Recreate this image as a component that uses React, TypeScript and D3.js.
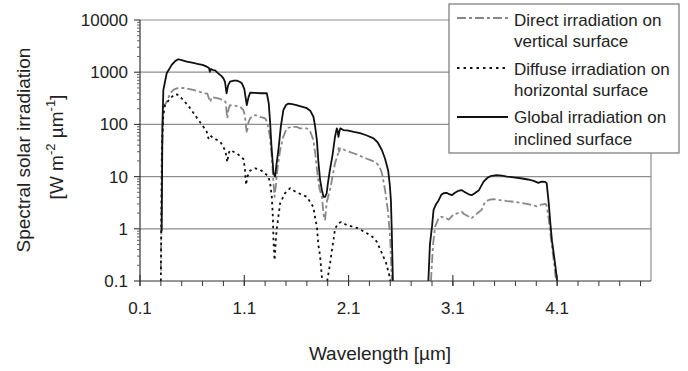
import React from 'react';
import * as d3 from 'd3';

// ---------- DATA ----------
const xTickValues = [0.1, 1.1, 2.1, 3.1, 4.1];
const xTickLabels = ['0.1', '1.1', '2.1', '3.1', '4.1'];
const yTickValues = [0.1, 1, 10, 100, 1000, 10000];
const yTickLabels = ['0.1', '1', '10', '100', '1000', '10000'];

const legendLabels = [
  ['Direct irradiation on', 'vertical surface'],
  ['Diffuse irradiation on', 'horizontal surface'],
  ['Global irradiation on', 'inclined surface'],
];

// Global irradiation on inclined surface (NaN = gap)
const globalWl = [
  0.305, 0.308, 0.315, 0.324, 0.356, 0.404, 0.44, 0.468, 0.5, 0.548, 0.6, 0.66, 0.7, 0.74, 0.762, 0.77, 0.78, 0.8, 0.82,
  0.85, 0.88, 0.9, 0.915, 0.93, 0.945, 0.963, 1.0, 1.03, 1.06, 1.076, 1.1, 1.124, 1.14, 1.156, 1.2, 1.26, 1.316, 1.335,
  1.348, 1.36, 1.38, 1.396, 1.41, 1.427, 1.45, 1.475, 1.5, 1.523, 1.56, 1.6, 1.65, 1.7, 1.735, 1.763, 1.78, 1.796, 1.81,
  1.827, 1.844, 1.86, 1.875, 1.89, 1.9, 1.92, 1.945, 1.97, 1.987, 1.995, 2.003, 2.01, 2.02, 2.05, 2.1, 2.15, 2.21, 2.27,
  2.34, 2.38, 2.42, 2.45, 2.48, 2.495, 2.506, 2.515, 2.525,
  2.6,
  2.865, 2.88, 2.9, 2.915, 2.94, 2.963, 2.99, 3.01, 3.04, 3.065, 3.09, 3.12, 3.15, 3.187, 3.21, 3.235, 3.26, 3.28, 3.31,
  3.35, 3.375, 3.395, 3.43, 3.46, 3.52, 3.57, 3.62, 3.7, 3.75, 3.82, 3.875, 3.92, 3.95, 3.985, 4.0, 4.02, 4.035, 4.05,
  4.067, 4.085, 4.1,
];
const globalVal = [
  0.9, 0.95, 100, 457, 955, 1380, 1650, 1770, 1700, 1590, 1520, 1435, 1380, 1275, 1200, 1020, 1150, 1100, 1080,
  950, 850, 760, 650, 395, 560, 660, 690, 690, 650, 615, 480, 234, 330, 405, 400, 395, 395, 250,
  107, 40, 11.6, 10, 18, 32, 90, 189, 235, 251, 245, 234, 218, 204, 180, 140, 90, 50, 20,
  8.6, 5.5, 4.1, 4.1, 4.8, 7, 13, 25, 58, 84, 75, 58, 70, 84, 78, 76, 72, 68, 62,
  54, 45, 32, 22, 13, 7, 3.5, 0.8, 0.1,
  NaN,
  0.1, 0.5, 1.1, 2.3, 3.0, 3.5, 4.5, 4.8, 4.9, 4.6, 4.4, 4.9, 5.3, 5.5, 5.1, 4.8, 4.5, 4.4, 4.8,
  5.5, 6.8, 8.0, 9.4, 10.2, 10.7, 10.4, 10.0, 9.6, 9.3, 8.8, 8.3, 7.6, 8.0, 7.9, 7.4, 3, 1.27, 0.6,
  0.34, 0.18, 0.1,
];

// Direct irradiation on vertical surface
const directWl = [
  0.298, 0.3, 0.312, 0.324, 0.356, 0.39, 0.42, 0.452, 0.516, 0.56, 0.612, 0.66, 0.71, 0.745, 0.765, 0.775, 0.785, 0.8,
  0.85, 0.9, 0.92, 0.937, 0.95, 0.963, 1.0, 1.06, 1.09, 1.105, 1.124, 1.14, 1.156, 1.18, 1.204, 1.25, 1.3, 1.32, 1.345,
  1.364, 1.38, 1.39, 1.4, 1.42, 1.444, 1.47, 1.507, 1.55, 1.6, 1.635, 1.7, 1.73, 1.763, 1.78, 1.8, 1.82, 1.844, 1.866,
  1.875, 1.89, 1.92, 1.94, 1.97, 2.0, 2.003, 2.01, 2.02, 2.067, 2.147, 2.21, 2.275, 2.33, 2.37, 2.4, 2.42, 2.45, 2.48,
  2.5, 2.515,
  2.6,
  2.89, 2.91, 2.93, 2.963, 2.99, 3.01, 3.035, 3.06, 3.085, 3.11, 3.15, 3.187, 3.21, 3.235, 3.26, 3.28, 3.31, 3.35,
  3.375, 3.41, 3.45, 3.49, 3.55, 3.62, 3.68, 3.75, 3.81, 3.87, 3.906, 3.95, 3.987, 4.0, 4.02, 4.035, 4.05, 4.067, 4.09,
];
const directVal = [
  0.16, 0.16, 30, 218, 270, 395, 460, 490, 500, 480, 457, 430, 395, 390, 300, 270, 330, 330,
  315, 293, 270, 131, 200, 234, 230, 218, 190, 150, 68, 110, 131, 145, 151, 140, 131, 110, 60,
  24, 7.4, 4.1, 6, 15, 32, 55, 84, 90, 90, 84, 84, 75, 50, 28, 12, 6, 4.1, 1.5,
  1.5, 3.2, 5.5, 8.6, 18, 28, 35, 30, 35, 32, 28, 25, 22, 20, 18, 15, 11.6, 5.5, 2,
  0.6, 0.1,
  NaN,
  0.1, 0.5, 1.1, 1.6, 1.7, 1.66, 1.6, 1.5, 1.7, 1.9, 2.0, 2.1, 1.9, 1.8, 1.65, 1.6, 1.8, 2.1,
  2.3, 3.3, 3.6, 3.7, 3.55, 3.4, 3.3, 3.15, 3.0, 2.8, 2.7, 2.9, 3.0, 2.8, 1.5, 0.82, 0.45, 0.25, 0.1,
];

// Diffuse irradiation on horizontal surface
const diffuseWl = [
  0.3, 0.31, 0.324, 0.34, 0.39, 0.436, 0.46, 0.516, 0.58, 0.66, 0.7, 0.74, 0.756, 0.77, 0.8, 0.868, 0.9, 0.92, 0.937,
  0.95, 0.963, 1.028, 1.09, 1.105, 1.117, 1.13, 1.156, 1.204, 1.25, 1.284, 1.332, 1.35, 1.364, 1.375, 1.38, 1.39, 1.4,
  1.41, 1.444, 1.49, 1.54, 1.58, 1.62, 1.667, 1.7, 1.748, 1.763, 1.78, 1.796, 1.81, 1.827, 1.844, 1.85,
  1.87,
  1.895, 1.92, 1.94, 1.955, 1.97, 2.0, 2.03, 2.083, 2.14, 2.195, 2.275, 2.33, 2.37, 2.42, 2.46, 2.49, 2.5,
];
const diffuseVal = [
  0.1, 40, 150, 235, 316, 380, 370, 293, 205, 122, 95, 72, 54, 62, 55, 47, 37, 30, 19,
  28, 32, 28, 22, 15, 6.9, 10, 13, 14.4, 13.5, 12.3, 10, 7, 4.1, 1.5, 0.6, 0.25, 0.5,
  0.95, 3.1, 4.8, 6.0, 5.3, 4.8, 4.4, 4.1, 2.9, 2.6, 1.6, 1.1, 0.5, 0.3, 0.12, 0.1,
  NaN,
  0.1, 0.2, 0.39, 0.6, 1.0, 1.27, 1.35, 1.18, 1.1, 1.02, 0.82, 0.7, 0.57, 0.34, 0.22, 0.13, 0.1,
];

// ---------- LAYOUT ----------
const W = 688;
const H = 371;
const left = 140;
const right = 651;
const top = 20;
const bottom = 281;
const FONT = "'Liberation Sans', Arial, Helvetica, sans-serif";
const GRID = '#8e8e8e';
const DIRECT_COLOR = '#888888';
const DARK = '#111111';

export default function App() {
  const x = d3.scaleLinear().domain([0.1, 5.0]).range([left, right]);
  const y = d3.scaleLog().domain([0.1, 10000]).range([bottom, top]);

  const mk = (wl: number[], val: number[]) => {
    const pts = wl.map((w, i) => [w, val[i]] as [number, number]);
    return d3
      .line<[number, number]>()
      .defined((d) => !isNaN(d[1]))
      .x((d) => x(d[0]))
      .y((d) => y(Math.max(0.1, d[1])))(pts) as string;
  };

  const xMinor = d3.range(0, 25).map((i) => 0.1 + i * 0.2).filter((v) => v <= 5.0001);
  const yMinor: number[] = [];
  [0.1, 1, 10, 100, 1000].forEach((d) => {
    for (let k = 2; k <= 9; k++) yMinor.push(d * k);
  });

  const legX0 = 449;
  const legY0 = 4;
  const legRows = [
    { sampleY: 18, t1: 26, t2: 47, stroke: DIRECT_COLOR, dash: '9,3,3,3' },
    { sampleY: 68, t1: 75, t2: 96, stroke: DARK, dash: '2.5,4' },
    { sampleY: 117, t1: 123, t2: 145, stroke: DARK, dash: undefined },
  ];

  return (
    <svg
      width={W}
      height={H}
      style={{ position: 'fixed', left: 0, top: 0, background: '#fff' }}
      fontFamily={FONT}
    >
      <rect x={0} y={0} width={W} height={H} fill="#fff" />
      <defs>
        <clipPath id="plotClip">
          <rect x={left} y={top} width={right - left} height={bottom - top} />
        </clipPath>
      </defs>

      {/* gridlines incl. top border */}
      {yTickValues.slice(1).map((v) => (
        <line key={'g' + v} x1={left} x2={right} y1={y(v)} y2={y(v)} stroke={GRID} strokeWidth={1.2} />
      ))}
      {/* right border */}
      <line x1={right} x2={right} y1={top} y2={bottom} stroke={GRID} strokeWidth={1.2} />

      {/* series */}
      <g clipPath="url(#plotClip)" fill="none" strokeLinejoin="round">
        <path d={mk(directWl, directVal)} stroke={DIRECT_COLOR} strokeWidth={1.8} strokeDasharray="9,3,3,3" />
        <path d={mk(diffuseWl, diffuseVal)} stroke={DARK} strokeWidth={1.8} strokeDasharray="2.5,3.5" />
        <path d={mk(globalWl, globalVal)} stroke={DARK} strokeWidth={1.8} />
      </g>

      {/* axes */}
      <line x1={left} x2={left} y1={top} y2={bottom} stroke="#333" strokeWidth={1.2} />
      <line x1={left} x2={right} y1={bottom} y2={bottom} stroke="#333" strokeWidth={1.2} />

      {yTickValues.map((v) => (
        <line key={'yt' + v} x1={left - 6} x2={left} y1={y(v)} y2={y(v)} stroke="#333" strokeWidth={1.1} />
      ))}
      {yMinor.map((v, i) => (
        <line key={'ym' + i} x1={left - 3} x2={left} y1={y(v)} y2={y(v)} stroke="#555" strokeWidth={0.9} />
      ))}
      {yTickValues.map((v, i) => (
        <text key={'yl' + v} x={128} y={y(v) + 6} textAnchor="end" fontSize={17} fill="#222">
          {yTickLabels[i]}
        </text>
      ))}

      {xMinor.map((v, i) => (
        <line key={'xm' + i} x1={x(v)} x2={x(v)} y1={bottom} y2={bottom + 5} stroke="#333" strokeWidth={1} />
      ))}
      {xTickValues.map((v) => (
        <line key={'xt' + v} x1={x(v)} x2={x(v)} y1={bottom - 6} y2={bottom + 5} stroke="#333" strokeWidth={1.1} />
      ))}
      {xTickValues.map((v, i) => (
        <text key={'xl' + v} x={x(v)} y={314} textAnchor="middle" fontSize={17} fill="#222">
          {xTickLabels[i]}
        </text>
      ))}

      {/* axis titles */}
      <text x={380} y={360} textAnchor="middle" fontSize={19} fill="#222">
        Wavelength [µm]
      </text>
      <text transform="translate(30,150) rotate(-90)" textAnchor="middle" fontSize={19} fill="#222">
        Spectral solar irradiation
      </text>
      <text transform="translate(63,147) rotate(-90)" textAnchor="middle" fontSize={19} fill="#222">
        [W m
        <tspan dy={-8} fontSize={13}>-2</tspan>
        <tspan dy={8}> µm</tspan>
        <tspan dy={-8} fontSize={13}>-1</tspan>
        <tspan dy={8}>]</tspan>
      </text>

      {/* legend */}
      <rect x={legX0} y={legY0} width={230} height={149} fill="#fff" stroke="#777" strokeWidth={1.2} />
      {legRows.map((r, i) => (
        <g key={'lg' + i}>
          <line
            x1={457}
            x2={508}
            y1={r.sampleY}
            y2={r.sampleY}
            stroke={r.stroke}
            strokeWidth={1.8}
            strokeDasharray={r.dash}
          />
          <text x={514} y={r.t1} fontSize={17} fill="#222">
            {legendLabels[i][0]}
          </text>
          <text x={514} y={r.t2} fontSize={17} fill="#222">
            {legendLabels[i][1]}
          </text>
        </g>
      ))}
    </svg>
  );
}
